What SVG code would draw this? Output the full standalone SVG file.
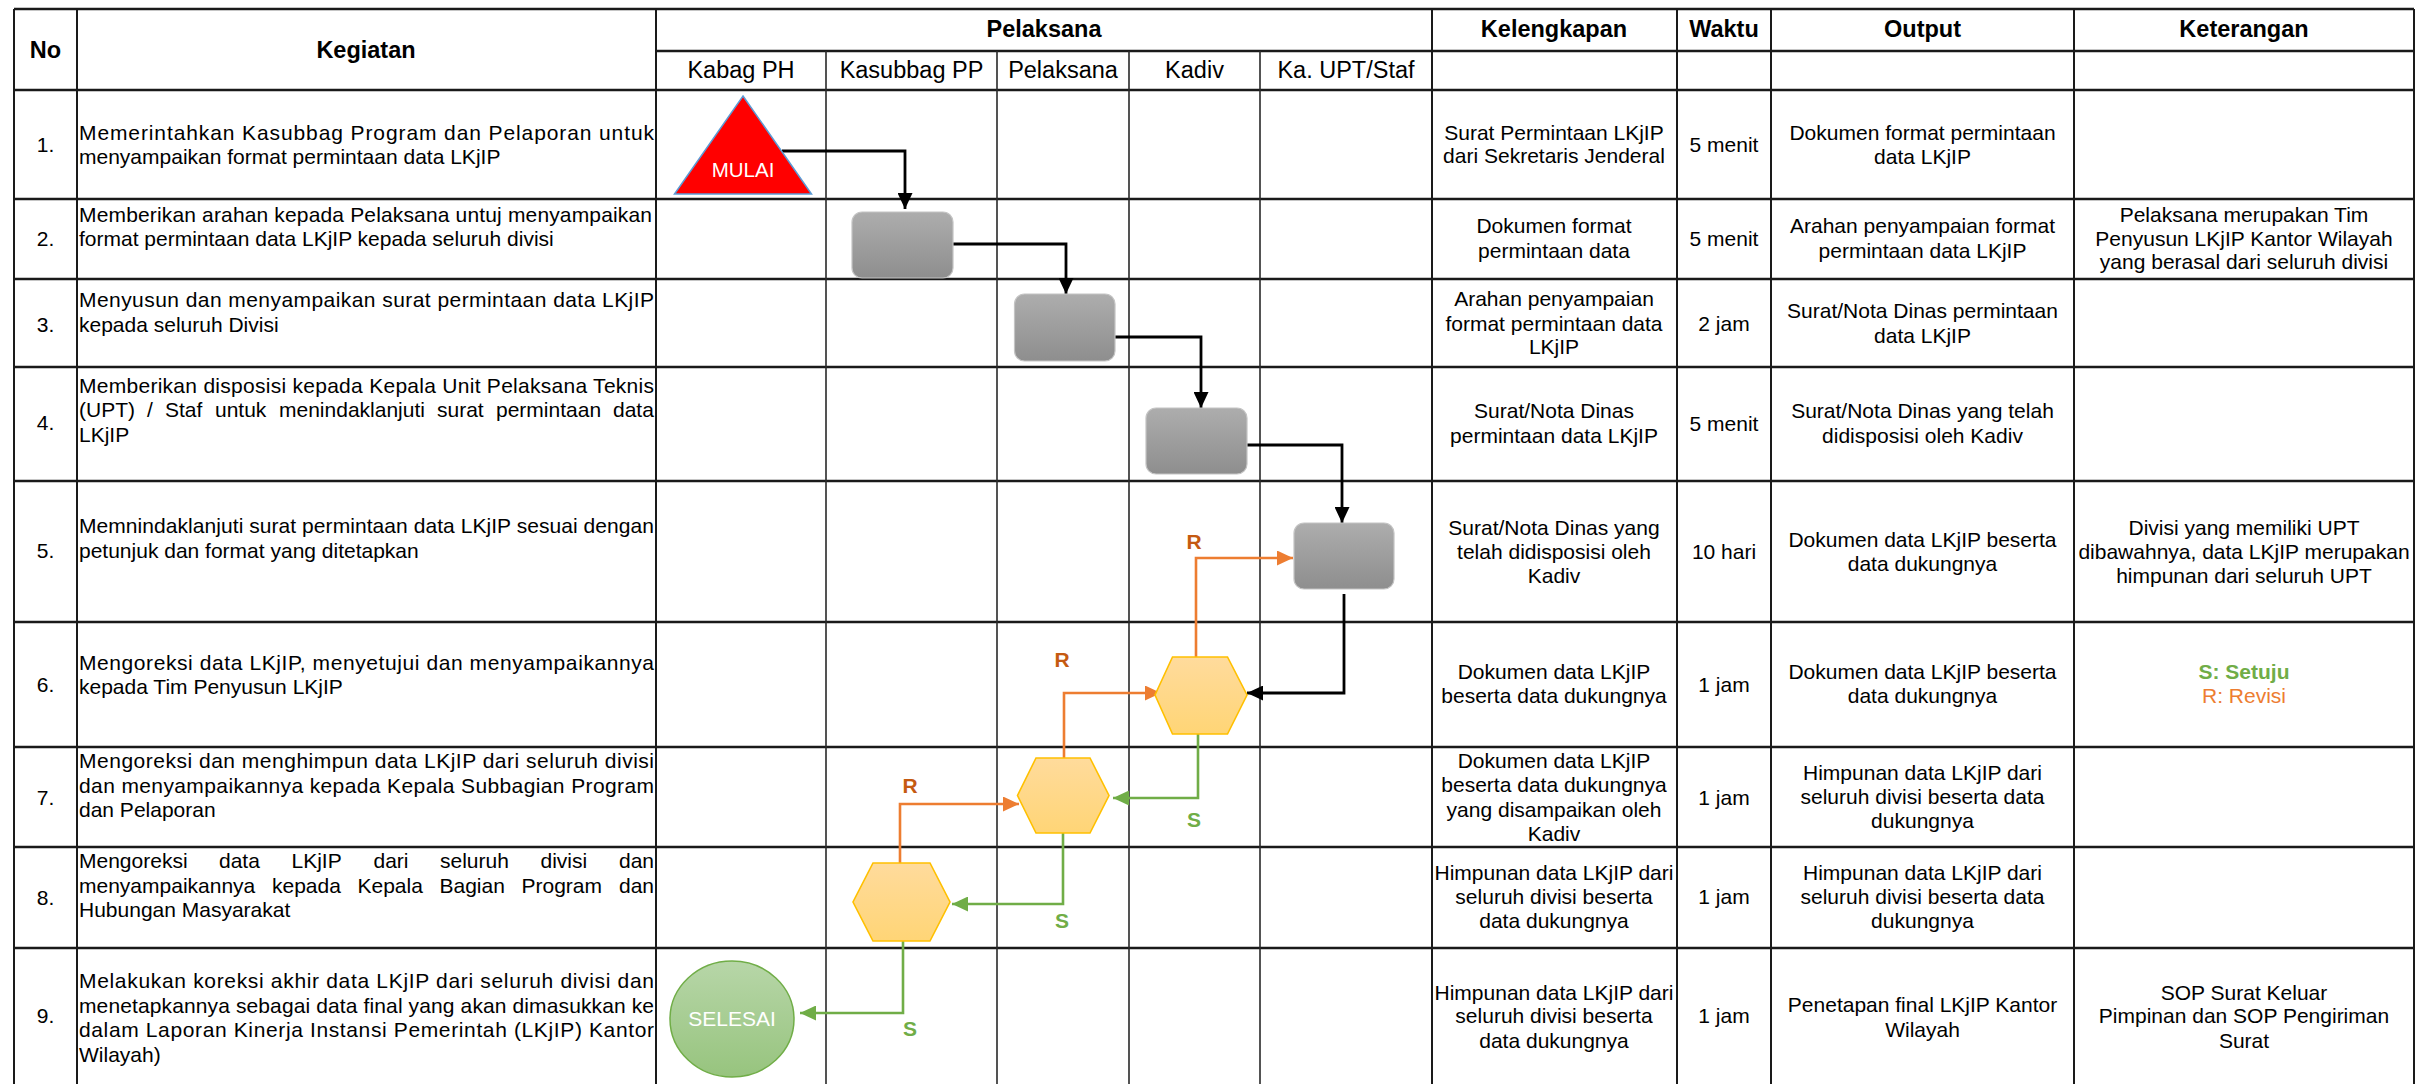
<svg xmlns="http://www.w3.org/2000/svg" width="2433" height="1084" viewBox="0 0 2433 1084">
<style>
text{font-family:"Liberation Sans",Arial,Helvetica,sans-serif;font-size:21px;fill:#000}
.c{text-anchor:middle}
.hb{font-weight:bold;font-size:23.5px}
.hl{font-size:23.5px}
.gh{stroke:#1a1a1a;stroke-width:2.6;fill:none}
.gv{stroke:#1a1a1a;stroke-width:2;fill:none}
.gl{stroke:#2a2a2a;stroke-width:1.6;fill:none}
.box{fill:url(#gGrey);stroke:#c4c4c4;stroke-width:1.2}
.hex{fill:url(#gHex);stroke:#FFC000;stroke-width:1.6}
.cb{stroke:#000;stroke-width:2.8;fill:none}
.co{stroke:#ED7D31;stroke-width:2.6;fill:none}
.cg{stroke:#70AD47;stroke-width:2.6;fill:none}
.lr{font-weight:bold;fill:#C55A11}
.ls{font-weight:bold;fill:#70AD47}
.w{fill:#fff}
.sg{fill:#70AD47;font-weight:bold}
.ro{fill:#ED7D31}
</style>
<defs>
<linearGradient id="gGrey" x1="0" y1="0" x2="0" y2="1"><stop offset="0" stop-color="#adadad"/><stop offset="1" stop-color="#8e8e8e"/></linearGradient>
<linearGradient id="gHex" x1="0" y1="0" x2="0" y2="1"><stop offset="0" stop-color="#FFDB9C"/><stop offset="1" stop-color="#FFD576"/></linearGradient>
<linearGradient id="gEnd" x1="0" y1="0" x2="0" y2="1"><stop offset="0" stop-color="#B7D6A8"/><stop offset="1" stop-color="#97C47E"/></linearGradient>
<marker id="aB" markerUnits="userSpaceOnUse" markerWidth="17" markerHeight="15" refX="16" refY="7.5" orient="auto"><path d="M0,0 L16,7.5 L0,15 z" fill="#000"/></marker>
<marker id="aO" markerUnits="userSpaceOnUse" markerWidth="17" markerHeight="15" refX="16" refY="7.5" orient="auto"><path d="M0,0 L16,7.5 L0,15 z" fill="#ED7D31"/></marker>
<marker id="aG" markerUnits="userSpaceOnUse" markerWidth="17" markerHeight="15" refX="16" refY="7.5" orient="auto"><path d="M0,0 L16,7.5 L0,15 z" fill="#70AD47"/></marker>
</defs>
<rect x="0" y="0" width="2433" height="1084" fill="#fff"/>

<g id="grid">
<path class="gh" d="M14,9 H2414 M656,51 H2414 M14,90 H2414 M14,199 H2414 M14,279 H2414 M14,367 H2414 M14,481 H2414 M14,622 H2414 M14,747 H2414 M14,847 H2414 M14,948 H2414"/>
<path class="gv" d="M14,9 V1084 M77,9 V1084 M656,9 V1084 M1432,9 V1084 M1677,9 V1084 M1771,9 V1084 M2074,9 V1084 M2414,9 V1084"/>
<path class="gl" d="M826,51 V1084 M997,51 V1084 M1129,51 V1084 M1260,51 V1084"/>
</g>

<g id="header">
<text class="hb c" x="45.5" y="58">No</text>
<text class="hb c" x="366" y="58">Kegiatan</text>
<text class="hb c" x="1044" y="37">Pelaksana</text>
<text class="hl c" x="741" y="78">Kabag PH</text>
<text class="hl c" x="911.5" y="78">Kasubbag PP</text>
<text class="hl c" x="1063" y="78">Pelaksana</text>
<text class="hl c" x="1194.5" y="78">Kadiv</text>
<text class="hl c" x="1346" y="78">Ka. UPT/Staf</text>
<text class="hb c" x="1554" y="37">Kelengkapan</text>
<text class="hb c" x="1724" y="37">Waktu</text>
<text class="hb c" x="1922.5" y="37">Output</text>
<text class="hb c" x="2244" y="37">Keterangan</text>
</g>

<g id="numbers">
<text class="c" x="45.5" y="152">1.</text>
<text class="c" x="45.5" y="246">2.</text>
<text class="c" x="45.5" y="332">3.</text>
<text class="c" x="45.5" y="430">4.</text>
<text class="c" x="45.5" y="558">5.</text>
<text class="c" x="45.5" y="692">6.</text>
<text class="c" x="45.5" y="805">7.</text>
<text class="c" x="45.5" y="905">8.</text>
<text class="c" x="45.5" y="1023">9.</text>
</g>

<g id="kegiatan">
<text x="79" y="140" textLength="575" lengthAdjust="spacing">Memerintahkan Kasubbag Program dan Pelaporan untuk</text>
<text x="79" y="164">menyampaikan format permintaan data LKjIP</text>
<text x="79" y="222" textLength="573" lengthAdjust="spacing">Memberikan arahan kepada Pelaksana untuj menyampaikan</text>
<text x="79" y="246">format permintaan data LKjIP kepada seluruh divisi</text>
<text x="79" y="307" textLength="575" lengthAdjust="spacing">Menyusun dan menyampaikan surat permintaan data LKjIP</text>
<text x="79" y="332">kepada seluruh Divisi</text>
<text x="79" y="393" textLength="575" lengthAdjust="spacing">Memberikan disposisi kepada Kepala Unit Pelaksana Teknis</text>
<text y="417"><tspan x="79">(UPT)</tspan><tspan x="147">/</tspan><tspan x="165">Staf</tspan><tspan x="215">untuk</tspan><tspan x="279">menindaklanjuti</tspan><tspan x="437">surat</tspan><tspan x="496">permintaan</tspan><tspan x="613">data</tspan></text>
<text x="79" y="442">LKjIP</text>
<text x="79" y="533" textLength="575" lengthAdjust="spacing">Memnindaklanjuti surat permintaan data LKjIP sesuai dengan</text>
<text x="79" y="558">petunjuk dan format yang ditetapkan</text>
<text x="79" y="670" textLength="575" lengthAdjust="spacing">Mengoreksi data LKjIP, menyetujui dan menyampaikannya</text>
<text x="79" y="694">kepada Tim Penyusun LKjIP</text>
<text x="79" y="768" textLength="575" lengthAdjust="spacing">Mengoreksi dan menghimpun data LKjIP dari seluruh divisi</text>
<text x="79" y="793" textLength="575" lengthAdjust="spacing">dan menyampaikannya kepada Kepala Subbagian Program</text>
<text x="79" y="817">dan Pelaporan</text>
<text y="868"><tspan x="79">Mengoreksi</tspan><tspan x="219">data</tspan><tspan x="291.5">LKjIP</tspan><tspan x="373.5">dari</tspan><tspan x="440">seluruh</tspan><tspan x="540.5">divisi</tspan><tspan x="619">dan</tspan></text>
<text y="893"><tspan x="79">menyampaikannya</tspan><tspan x="272">kepada</tspan><tspan x="357.5">Kepala</tspan><tspan x="439.5">Bagian</tspan><tspan x="521.5">Program</tspan><tspan x="619">dan</tspan></text>
<text x="79" y="917">Hubungan Masyarakat</text>
<text x="79" y="988" textLength="575" lengthAdjust="spacing">Melakukan koreksi akhir data LKjIP dari seluruh divisi dan</text>
<text x="79" y="1013" textLength="575" lengthAdjust="spacing">menetapkannya sebagai data final yang akan dimasukkan ke</text>
<text x="79" y="1037" textLength="575" lengthAdjust="spacing">dalam Laporan Kinerja Instansi Pemerintah (LKjIP) Kantor</text>
<text x="79" y="1062">Wilayah)</text>
</g>

<g id="kelengkapan">
<text class="c" x="1554" y="140">Surat Permintaan LKjIP</text>
<text class="c" x="1554" y="163">dari Sekretaris Jenderal</text>
<text class="c" x="1554" y="233">Dokumen format</text>
<text class="c" x="1554" y="258">permintaan data</text>
<text class="c" x="1554" y="306">Arahan penyampaian</text>
<text class="c" x="1554" y="331">format permintaan data</text>
<text class="c" x="1554" y="354">LKjIP</text>
<text class="c" x="1554" y="418">Surat/Nota Dinas</text>
<text class="c" x="1554" y="443">permintaan data LKjIP</text>
<text class="c" x="1554" y="535">Surat/Nota Dinas yang</text>
<text class="c" x="1554" y="559">telah didisposisi oleh</text>
<text class="c" x="1554" y="583">Kadiv</text>
<text class="c" x="1554" y="679">Dokumen data LKjIP</text>
<text class="c" x="1554" y="703">beserta data dukungnya</text>
<text class="c" x="1554" y="768">Dokumen data LKjIP</text>
<text class="c" x="1554" y="792">beserta data dukungnya</text>
<text class="c" x="1554" y="817">yang disampaikan oleh</text>
<text class="c" x="1554" y="841">Kadiv</text>
<text class="c" x="1554" y="880">Himpunan data LKjIP dari</text>
<text class="c" x="1554" y="904">seluruh divisi beserta</text>
<text class="c" x="1554" y="928">data dukungnya</text>
<text class="c" x="1554" y="1000">Himpunan data LKjIP dari</text>
<text class="c" x="1554" y="1023">seluruh divisi beserta</text>
<text class="c" x="1554" y="1048">data dukungnya</text>
</g>

<g id="waktu">
<text class="c" x="1724" y="152">5 menit</text>
<text class="c" x="1724" y="246">5 menit</text>
<text class="c" x="1724" y="331">2 jam</text>
<text class="c" x="1724" y="431">5 menit</text>
<text class="c" x="1724" y="559">10 hari</text>
<text class="c" x="1724" y="692">1 jam</text>
<text class="c" x="1724" y="805">1 jam</text>
<text class="c" x="1724" y="904">1 jam</text>
<text class="c" x="1724" y="1023">1 jam</text>
</g>

<g id="output">
<text class="c" x="1922.5" y="140">Dokumen format permintaan</text>
<text class="c" x="1922.5" y="164">data LKjIP</text>
<text class="c" x="1922.5" y="233">Arahan penyampaian format</text>
<text class="c" x="1922.5" y="258">permintaan data LKjIP</text>
<text class="c" x="1922.5" y="318">Surat/Nota Dinas permintaan</text>
<text class="c" x="1922.5" y="343">data LKjIP</text>
<text class="c" x="1922.5" y="418">Surat/Nota Dinas yang telah</text>
<text class="c" x="1922.5" y="443">didisposisi oleh Kadiv</text>
<text class="c" x="1922.5" y="547">Dokumen data LKjIP beserta</text>
<text class="c" x="1922.5" y="571">data dukungnya</text>
<text class="c" x="1922.5" y="679">Dokumen data LKjIP beserta</text>
<text class="c" x="1922.5" y="703">data dukungnya</text>
<text class="c" x="1922.5" y="780">Himpunan data LKjIP dari</text>
<text class="c" x="1922.5" y="804">seluruh divisi beserta data</text>
<text class="c" x="1922.5" y="828">dukungnya</text>
<text class="c" x="1922.5" y="880">Himpunan data LKjIP dari</text>
<text class="c" x="1922.5" y="904">seluruh divisi beserta data</text>
<text class="c" x="1922.5" y="928">dukungnya</text>
<text class="c" x="1922.5" y="1012">Penetapan final LKjIP Kantor</text>
<text class="c" x="1922.5" y="1037">Wilayah</text>
</g>

<g id="keterangan">
<text class="c" x="2244" y="222">Pelaksana merupakan Tim</text>
<text class="c" x="2244" y="246">Penyusun LKjIP Kantor Wilayah</text>
<text class="c" x="2244" y="269">yang berasal dari seluruh divisi</text>
<text class="c" x="2244" y="535">Divisi yang memiliki UPT</text>
<text class="c" x="2244" y="559">dibawahnya, data LKjIP merupakan</text>
<text class="c" x="2244" y="583">himpunan dari seluruh UPT</text>
<text class="c sg" x="2244" y="679">S: Setuju</text>
<text class="c ro" x="2244" y="703">R: Revisi</text>
<text class="c" x="2244" y="1000">SOP Surat Keluar</text>
<text class="c" x="2244" y="1023">Pimpinan dan SOP Pengiriman</text>
<text class="c" x="2244" y="1048">Surat</text>
</g>

<g id="connectors">
<path class="cb" d="M782,151 H905 V209" marker-end="url(#aB)"/>
<path class="cb" d="M953,244 H1066 V294" marker-end="url(#aB)"/>
<path class="cb" d="M1115,337 H1201 V408" marker-end="url(#aB)"/>
<path class="cb" d="M1247,445 H1342 V523" marker-end="url(#aB)"/>
<path class="cb" d="M1344,594 V693 H1247" marker-end="url(#aB)"/>
<path class="co" d="M1196,657 V558 H1293" marker-end="url(#aO)"/>
<path class="co" d="M1064,758 V693 H1161" marker-end="url(#aO)"/>
<path class="co" d="M900,863 V804 H1019" marker-end="url(#aO)"/>
<path class="cg" d="M1198,734 V798 H1113" marker-end="url(#aG)"/>
<path class="cg" d="M1063,833 V904 H952" marker-end="url(#aG)"/>
<path class="cg" d="M903,941 V1013 H800" marker-end="url(#aG)"/>
<text class="lr c" x="1194" y="549">R</text>
<text class="lr c" x="1062" y="667">R</text>
<text class="lr c" x="910" y="793">R</text>
<text class="ls c" x="1194" y="827">S</text>
<text class="ls c" x="1062" y="928">S</text>
<text class="ls c" x="910" y="1036">S</text>
</g>

<g id="n-mulai">
<polygon points="743,96 811.5,194 674.5,194" fill="#FF0000" stroke="#5B9BD5" stroke-width="1.5"/>
<text class="c w" x="743" y="177" style="font-size:20.5px">MULAI</text>
</g>
<g id="n-step2"><rect class="box" x="852" y="212" width="101" height="66" rx="10"/></g>
<g id="n-step3"><rect class="box" x="1014.5" y="294" width="100.5" height="67" rx="10"/></g>
<g id="n-step4"><rect class="box" x="1146" y="408" width="101" height="66" rx="10"/></g>
<g id="n-step5"><rect class="box" x="1294" y="523" width="100" height="66" rx="10"/></g>
<g id="n-step6"><polygon class="hex" points="1172.5,657 1227.5,657 1247,695 1227.5,734 1172.5,734 1155,695"/></g>
<g id="n-step7"><polygon class="hex" points="1036,758 1090,758 1109,795.5 1090,833 1036,833 1017.5,795.5"/></g>
<g id="n-step8"><polygon class="hex" points="873,863 930,863 950,902 930,941 873,941 853,902"/></g>
<g id="n-selesai">
<ellipse cx="732" cy="1019" rx="62" ry="58" fill="url(#gEnd)" stroke="#70AD47" stroke-width="1.5"/>
<text class="c w" x="732" y="1026">SELESAI</text>
</g>
</svg>
